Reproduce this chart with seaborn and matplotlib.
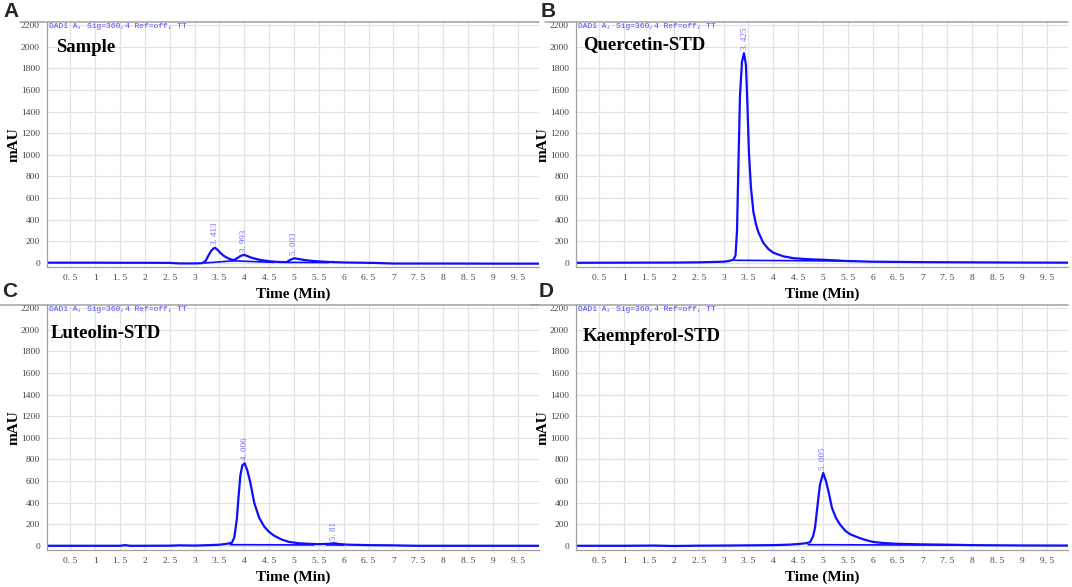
import matplotlib
matplotlib.use("Agg")
import matplotlib.pyplot as plt
from matplotlib.lines import Line2D
import seaborn as sns

# HPLC chromatograms (DAD1 A, 360 nm)

# A: Sample
t_sample = [0.0, 0.5, 1.0, 1.5, 2.0, 2.5, 2.7, 3.0, 3.15, 3.22, 3.28, 3.33, 3.38, 3.413, 3.46, 3.52,
            3.6, 3.7, 3.78, 3.85, 3.92, 3.993, 4.05, 4.15, 4.3, 4.5, 4.7, 4.85, 4.92, 5.003, 5.08,
            5.2, 5.4, 5.6, 5.8, 6.0, 6.6, 7.0, 8.0, 9.0, 9.95]
v_sample = [3, 3, 3, 2, 2, 1, -4, -4, -2, 18, 70, 110, 135, 140, 122, 92,
            62, 38, 26, 42, 64, 76, 66, 48, 30, 16, 9, 8, 28, 44, 38,
            28, 18, 12, 8, 5, 1, -5, -5, -6, -6]
base_sample_t = [[3.2, 3.78], [3.78, 4.6], [4.85, 5.7]]
base_sample_v = [[0, 20], [20, 6], [6, 4]]
peaks_sample = ["3. 413", "3. 993", "5. 003"]
peaks_sample_t = [3.413, 3.993, 5.003]
peaks_sample_v = [140, 76, 44]

# B: Quercetin standard
t_quer = [0.0, 1.0, 2.0, 2.5, 3.0, 3.1, 3.2, 3.24, 3.27, 3.3, 3.33, 3.37, 3.41, 3.45, 3.48, 3.51,
          3.55, 3.6, 3.65, 3.7, 3.8, 3.9, 4.0, 4.2, 4.4, 4.6, 4.8, 5.0, 5.5, 6.0, 7.0, 8.0, 9.0, 9.95]
v_quer = [2, 3, 4, 6, 12, 18, 30, 70, 300, 950, 1550, 1860, 1940, 1830, 1450, 1020,
          700, 470, 360, 285, 185, 130, 95, 62, 45, 38, 33, 30, 18, 12, 8, 6, 4, 3]
base_quer_t = [[3.22, 5.6]]
base_quer_v = [[25, 18]]
peaks_quer = ["3. 425"]
peaks_quer_t = [3.425]
peaks_quer_v = [1940]

# C: Luteolin standard
t_lut = [0.0, 0.5, 1.0, 1.5, 1.6, 1.7, 2.0, 2.5, 2.7, 3.0, 3.3, 3.5, 3.65, 3.75, 3.8, 3.85, 3.88,
         3.92, 3.96, 4.006, 4.06, 4.12, 4.2, 4.3, 4.4, 4.5, 4.6, 4.75, 4.9, 5.1, 5.3, 5.5, 5.7,
         5.81, 5.9, 6.1, 6.5, 7.0, 7.2, 7.5, 8.0, 9.0, 9.95]
v_lut = [2, 2, 2, 2, 8, 2, 2, 3, 6, 4, 8, 12, 20, 30, 80, 250, 430,
         650, 745, 765, 700, 590, 400, 260, 180, 130, 95, 60, 38, 25, 20, 17, 20,
         26, 18, 12, 8, 6, 4, 2, 2, 2, 2]
base_lut_t = [[3.72, 5.4], [5.65, 6.0]]
base_lut_v = [[12, 10], [10, 9]]
peaks_lut = ["4. 006", "5. 81"]
peaks_lut_t = [4.006, 5.81]
peaks_lut_v = [765, 26]

# D: Kaempferol standard
t_kaem = [0.0, 1.0, 1.6, 2.0, 2.5, 3.0, 3.5, 4.0, 4.3, 4.5, 4.65, 4.74, 4.8, 4.84, 4.9, 4.94,
          5.005, 5.06, 5.11, 5.18, 5.26, 5.34, 5.45, 5.55, 5.7, 5.81, 6.0, 6.2, 6.5, 7.0, 7.5,
          8.0, 9.0, 9.95]
v_kaem = [2, 2, 4, 0, 3, 4, 6, 8, 12, 18, 25, 35, 90, 170, 415, 570,
          675, 600, 506, 353, 260, 200, 140, 108, 80, 62, 38, 28, 20, 15, 12,
          8, 5, 4]
base_kaem_t = [[4.7, 8.0]]
base_kaem_v = [[12, 8]]
peaks_kaem = ["5. 005"]
peaks_kaem_t = [5.005]
peaks_kaem_v = [675]

panel_letters = ["A", "B", "C", "D"]
panel_names = ["Sample", "Quercetin-STD", "Luteolin-STD", "Kaempferol-STD"]
x_ticks = [0.5 * i for i in range(1, 20)]
x_ticklabels = ["0. 5", "1", "1. 5", "2", "2. 5", "3", "3. 5", "4", "4. 5", "5",
                "5. 5", "6", "6. 5", "7", "7. 5", "8", "8. 5", "9", "9. 5"]
y_ticks = list(range(0, 2201, 200))

sns.set_style("whitegrid")
plt.rcParams['font.family'] = ['Liberation Serif', 'DejaVu Serif']

W, H = 1072, 587
fig = plt.figure(figsize=(W / 100, H / 100), dpi=100)

# axes boxes in pixels: left, top, right, bottom
boxes = [(47, 22, 539, 267), (576, 22, 1068, 267), (47, 305, 539, 550), (576, 305, 1068, 550)]
topline_x = [(20, 539), (545, 1068), (0, 539), (530, 1068)]
name_pos = [(0.018, 0.895), (0.014, 0.91), (0.008, 0.885), (0.014, 0.87)]
letter_pos = [(3, 2), (541, 2), (2, 282), (539, 282)]

traces = [(t_sample, v_sample, base_sample_t, base_sample_v, peaks_sample, peaks_sample_t, peaks_sample_v),
          (t_quer, v_quer, base_quer_t, base_quer_v, peaks_quer, peaks_quer_t, peaks_quer_v),
          (t_lut, v_lut, base_lut_t, base_lut_v, peaks_lut, peaks_lut_t, peaks_lut_v),
          (t_kaem, v_kaem, base_kaem_t, base_kaem_v, peaks_kaem, peaks_kaem_t, peaks_kaem_v)]

line_col = "#0d0dff"
for i, (t, v, bt, bv, plab, pt, pv) in enumerate(traces):
    l, tp, r, b = boxes[i]
    ax = fig.add_axes([l / W, 1 - b / H, (r - l) / W, (b - tp) / H])
    sns.lineplot(x=t, y=v, ax=ax, color=line_col, lw=1.6, sort=False, estimator=None)
    for seg_t, seg_v in zip(bt, bv):
        sns.lineplot(x=seg_t, y=seg_v, ax=ax, color=line_col, lw=1.2, sort=False, estimator=None)
    for lab, px, py in zip(plab, pt, pv):
        ax.annotate(lab, (px, py), xytext=(0, 2), textcoords="offset points", rotation=90,
                    ha="center", va="bottom", fontsize=6.5, color="#6f6fff")
    ax.set_xlim(0.03, 9.93)
    ax.set_ylim(-37, 2228)
    ax.set_xticks(x_ticks)
    ax.set_xticklabels(x_ticklabels)
    ax.set_yticks(y_ticks)
    ax.grid(True, color="#e2e2e2", lw=0.9)
    for s in ["top", "right"]:
        ax.spines[s].set_visible(False)
    for s in ["left", "bottom"]:
        ax.spines[s].set_color("#a0a0a0")
        ax.spines[s].set_linewidth(0.9)
    ax.tick_params(axis="both", length=3, width=0.8, color="#909090", pad=2,
                   labelsize=6.8, labelcolor="#444444")
    ax.set_xlabel("Time (Min)", fontsize=11, fontweight="bold", labelpad=4, color="black")
    ax.set_ylabel("mAU", fontsize=11, fontweight="bold", labelpad=0, color="black")
    ax.text(0.004, 0.995, "DAD1 A, Sig=360,4 Ref=off, TT", transform=ax.transAxes,
            ha="left", va="top", fontsize=5.8, color="#4b4bff", family="Liberation Mono")
    ax.text(name_pos[i][0], name_pos[i][1], panel_names[i], transform=ax.transAxes,
            ha="left", va="center", fontsize=13.5, fontweight="bold", color="black")
    x0, x1 = topline_x[i]
    fig.add_artist(Line2D([x0 / W, x1 / W], [1 - tp / H, 1 - tp / H], transform=fig.transFigure,
                          color="#a0a0a0", lw=1.1))
    fig.text(letter_pos[i][0] / W, 1 - letter_pos[i][1] / H, panel_letters[i], ha="left", va="top",
             fontsize=15, fontweight="bold", family="Liberation Sans")

plt.savefig("out.png", dpi=100)
